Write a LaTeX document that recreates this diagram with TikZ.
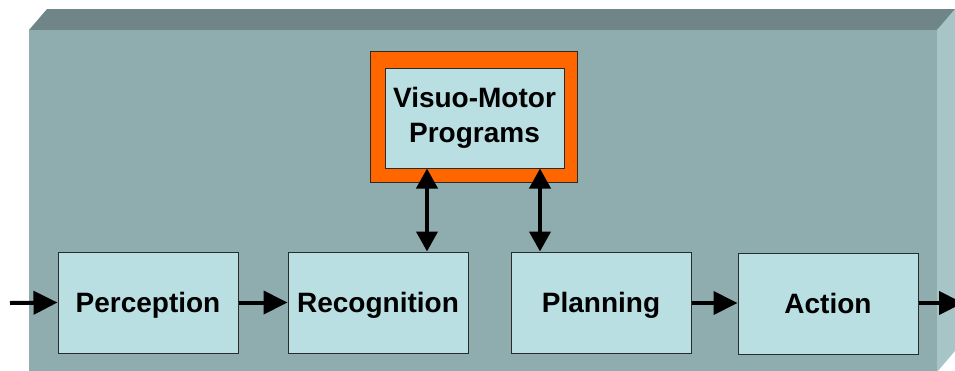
\documentclass[tikz,border=0pt]{standalone}
\usepackage{fontspec}
\setmainfont{Liberation Sans}
\usetikzlibrary{arrows.meta,fit}
\definecolor{slabtop}{HTML}{6F8587}
\definecolor{slabfront}{HTML}{8FADAE}
\definecolor{slabside}{HTML}{A7C5C7}
\definecolor{boxfill}{HTML}{B9DFE3}
\definecolor{boxline}{HTML}{2A2A2A}
\definecolor{frameorange}{HTML}{FF6600}
\tikzset{
  panel/.style={draw=boxline, line width=1pt, fill=boxfill, inner sep=0pt,
    font=\fontsize{28pt}{35pt}\selectfont\bfseries},
  stage/.style={panel, minimum width=180pt, minimum height=101pt,
    text height=20pt, text depth=0pt},
  flow/.style={line width=4pt, -{Triangle[length=24pt,width=23pt]}},
  link/.style={line width=4pt, {Triangle[length=20pt,width=21pt]}-{Triangle[length=20pt,width=21pt]}}
}
\begin{document}
\begin{tikzpicture}[x=1pt,y=-1pt]
  \clip (0,0) rectangle (955,370);
  \fill[white] (0,0) rectangle (955,370);
  % slab: top face, front face, right side face
  \fill[slabtop] (29,30) -- (47,9) -- (960,9) -- (937,30) -- cycle;
  \fill[slabfront] (29,30) rectangle (937,380);
  \fill[slabside] (937,30) -- (955,9) -- (960,9) -- (960,345) -- (937,372) -- cycle;

  % pipeline stages
  \node[stage] (per) at (148,302.5) {Perception};
  \node[stage] (rec) at (378,302.5) {Recognition};
  \node[stage] (pla) at (601,302.5) {Planning};
  \node[stage] (act) at (828,303.5) {Action};

  % visuo-motor programs in an orange frame
  \node[draw=boxline, line width=1pt, fill=frameorange, minimum width=207pt,
    minimum height=131pt, inner sep=0pt] (frame) at (473.5,116.5) {};
  \node[panel, minimum width=179pt, minimum height=100pt, align=center]
    (vmp) at (474.5,118) {Visuo-Motor\\Programs};

  % connectors
  \coordinate (in) at (10,303);
  \coordinate (out) at (963,303);
  \draw[flow] (in) -- (per.west);
  \draw[flow] (per.east) -- (rec.west);
  \draw[flow] (pla.east |- 0,303) -- (act.west |- 0,303);
  \draw[flow] (act.east |- 0,303) -- (out);
  \draw[link] (vmp.south -| 427,0) -- (rec.north -| 427,0);
  \draw[link] (vmp.south -| 540,0) -- (pla.north -| 540,0);
\end{tikzpicture}
\end{document}
